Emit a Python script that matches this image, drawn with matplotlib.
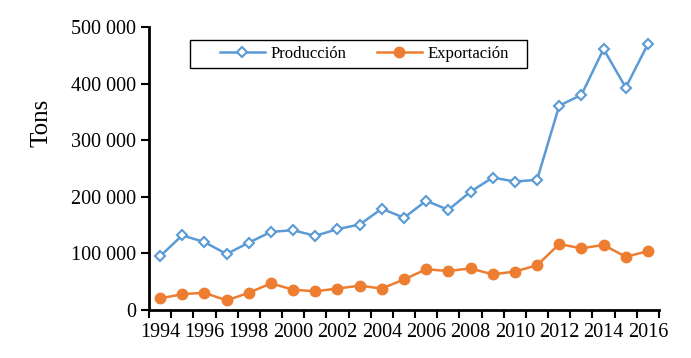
import numpy as np
import matplotlib
matplotlib.use("Agg")
import matplotlib.pyplot as plt
from matplotlib.ticker import FuncFormatter, FixedLocator
from matplotlib.patches import Rectangle

years = list(range(1994, 2017))
produccion = [95000, 132000, 120000, 99000, 119000, 138000, 141000, 131000, 143000, 151000,
              179000, 163000, 193000, 177000, 209000, 234000, 227000, 230000, 361000, 380000,
              461000, 393000, 470000]
exportacion = [20500, 28000, 30500, 17000, 30500, 47000, 36000, 33000, 38000, 43000,
               38000, 54000, 72000, 69000, 73500, 63000, 68000, 79000, 116500, 109000,
               115000, 94000, 104000]

plt.rcParams['font.family'] = ['Liberation Serif', 'DejaVu Serif']

fig = plt.figure(figsize=(6.91, 3.58), dpi=100)
ax = fig.add_axes([0.2156, 0.134, 0.7381, 0.7906])

blue = '#5B9BD5'
orange = '#ED7D31'
x = np.arange(len(years))
ax.plot(x, produccion, color=blue, lw=1.8, marker='D', ms=5.5, mfc='white',
        mec=blue, mew=1.5, label='Producción')
ax.plot(x, exportacion, color=orange, lw=1.8, marker='o', ms=7.5, mfc=orange,
        mec=orange, label='Exportación')

ax.set_xlim(-0.5, len(years) - 0.5)
ax.set_ylim(0, 500000)
ax.set_yticks(np.arange(0, 500001, 100000))
ax.yaxis.set_major_formatter(FuncFormatter(lambda v, p: f"{int(v):,}".replace(",", " ")))

# category axis: labels at every other year, tick marks between categories
ax.set_xticks(x[::2])
ax.set_xticklabels([str(y) for y in years[::2]])
ax.xaxis.set_minor_locator(FixedLocator(np.arange(-0.5, len(years), 1.0)))
ax.tick_params(axis='x', which='major', length=0, pad=9, labelsize=14.5)
ax.tick_params(axis='x', which='minor', length=6, width=1.5, direction='out')
ax.tick_params(axis='y', which='major', length=6, width=1.5, direction='out', labelsize=14.5)

for s in ['top', 'right']:
    ax.spines[s].set_visible(False)
for s in ['left', 'bottom']:
    ax.spines[s].set_linewidth(2)
    ax.spines[s].set_color('black')

ax.set_ylabel('Tons', fontsize=18)
ax.yaxis.set_label_coords(-0.19, 0.66)

# legend box drawn by hand, the legend itself sits inside it without a frame
ax.add_patch(Rectangle((0.0804, 0.855), 0.6606, 0.099, transform=ax.transAxes,
                       fill=True, facecolor='white', edgecolor='black', lw=1.0,
                       zorder=4))
leg = ax.legend(loc='center left', bbox_to_anchor=(0.139, 0.905), borderaxespad=0,
                ncol=2, fontsize=12, frameon=False, handlelength=2.7,
                handletextpad=0.35, columnspacing=1.8, borderpad=0)
leg.set_zorder(5)

fig.savefig('out.png', dpi=100)
